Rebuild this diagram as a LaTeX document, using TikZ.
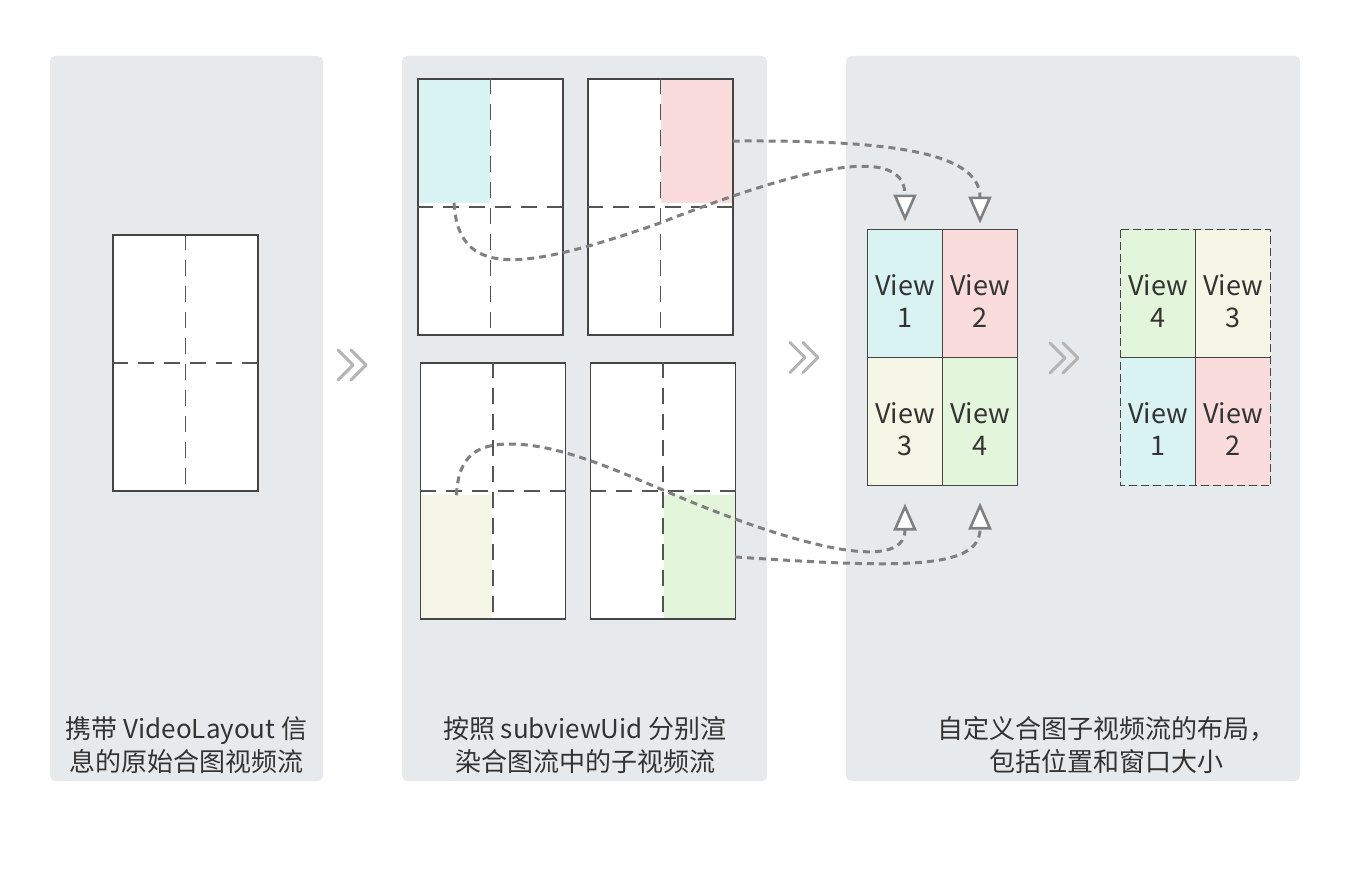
\documentclass[tikz,border=0pt]{standalone}
\usepackage{fontspec}
\setmainfont{Noto Sans CJK SC}
\usetikzlibrary{positioning,calc,arrows.meta}

\definecolor{panelgray}{HTML}{E7EAED}
\definecolor{framegray}{HTML}{454545}
\definecolor{crossgray}{HTML}{555555}
\definecolor{cyanfill}{HTML}{D9F3F3}
\definecolor{pinkfill}{HTML}{F9DCDB}
\definecolor{yellowfill}{HTML}{F6F6E7}
\definecolor{greenfill}{HTML}{E3F5DB}
\definecolor{flowgray}{HTML}{808080}
\definecolor{chevgray}{HTML}{B4B4B4}
\definecolor{textgray}{HTML}{333333}

\begin{document}
\begin{tikzpicture}[x=1pt, y=-1pt,
    panel/.style={fill=panelgray, rounded corners=5pt},
    frame/.style={draw=framegray, line width=1.3pt, fill=white, minimum width=145pt, minimum height=256pt, inner sep=0pt},
    quad/.style={minimum width=71pt, minimum height=123pt, inner sep=0pt},
    cross/.style={draw=crossgray, line width=1.2pt, dash pattern=on 16pt off 10pt},
    cell/.style={minimum width=75pt, minimum height=128pt, inner sep=0pt, outer sep=0pt},
    viewtext/.style={align=center, text=textgray, font=\fontsize{27}{32}\selectfont, yshift=-8pt},
    caption/.style={align=center, text=textgray, font=\fontsize{26}{33}\selectfont},
    flow/.style={draw=flowgray, line width=3pt, dash pattern=on 7pt off 5pt,
        -{Triangle[fill=white, length=27pt, width=23pt, line width=2.6pt]}},
    chevron/.style={draw=chevgray, line width=3pt, line cap=round, line join=round}]

    \useasboundingbox (0,0) rectangle (1349,872);

    % Background panels
    \fill[panel] (50,56) rectangle (323,781);
    \fill[panel] (402,56) rectangle (767,781);
    \fill[panel] (846,56) rectangle (1300,781);

    % Original composite stream
    \node[frame] (f0) at (185.5,363) {};
    \draw[cross] (f0.north) -- (f0.south);
    \draw[cross] (f0.west) -- (f0.east);

    % Rendered sub streams
    \node[frame] (f1) at (490.5,207) {};
    \node[frame] (f2) at (660.5,207) {};
    \node[frame] (f3) at (493,491) {};
    \node[frame] (f4) at (663,491) {};

    \node[quad, fill=cyanfill, anchor=north west] (q1) at ([shift={(1,1)}]f1.north west) {};
    \node[quad, fill=pinkfill, anchor=north east] (q2) at ([shift={(-1,1)}]f2.north east) {};
    \node[quad, fill=yellowfill, anchor=south west] (q3) at ([shift={(1,-1)}]f3.south west) {};
    \node[quad, fill=greenfill, anchor=south east] (q4) at ([shift={(-1,-1)}]f4.south east) {};

    \foreach \f in {f1,f2,f3,f4}{
        \draw[cross] (\f.north) -- (\f.south);
        \draw[cross] (\f.west) -- (\f.east);
    }

    % Custom layout
    \node[cell, draw=framegray, line width=1.3pt, fill=cyanfill, label={[viewtext]center:{View\\1}}] (v1) at (905,293.5) {};
    \node[cell, draw=framegray, line width=1.3pt, fill=pinkfill, right=0pt of v1, label={[viewtext]center:{View\\2}}] (v2) {};
    \node[cell, draw=framegray, line width=1.3pt, fill=yellowfill, below=0pt of v1, label={[viewtext]center:{View\\3}}] (v3) {};
    \node[cell, draw=framegray, line width=1.3pt, fill=greenfill, right=0pt of v3, label={[viewtext]center:{View\\4}}] (v4) {};

    % Rearranged layout
    \node[cell, fill=greenfill, label={[viewtext]center:{View\\4}}] (r4) at (1158,293.5) {};
    \node[cell, fill=yellowfill, right=0pt of r4, label={[viewtext]center:{View\\3}}] (r3) {};
    \node[cell, fill=cyanfill, below=0pt of r4, label={[viewtext]center:{View\\1}}] (r1) {};
    \node[cell, fill=pinkfill, right=0pt of r1, label={[viewtext]center:{View\\2}}] (r2) {};
    \draw[framegray, line width=1.3pt] (r4.north east) -- (r1.south east);
    \draw[framegray, line width=1.3pt] (r4.south west) -- (r3.south east);
    \draw[framegray, line width=1.3pt, dash pattern=on 8pt off 4pt] (r4.north west) rectangle (r2.south east);

    % Flows from sub streams to views
    \draw[flow] (q2.east) .. controls (880,140) and (980,150) .. ($(v2.north)+(0,-6)$);
    \draw[flow] (q1.south) .. controls (458,278) and (520,272) .. (660,223)
        .. controls (790,172) and (905,140) .. ($(v1.north)+(0,-8)$);
    \draw[flow] (q3.north) .. controls (458,455) and (478,444) .. (510,444)
        .. controls (560,444) and (620,472) .. (663,490)
        .. controls (790,545) and (905,575) .. ($(v3.south)+(0,18)$);
    \draw[flow] (q4.east) .. controls (900,568) and (980,570) .. ($(v4.south)+(0,17)$);

    % Step chevrons
    \foreach \cx/\cy in {338/365, 790/357.5, 1050/358}{
        \draw[chevron] (\cx,\cy-15) -- (\cx+15,\cy) -- (\cx,\cy+15);
        \draw[chevron] (\cx+13,\cy-15) -- (\cx+28,\cy) -- (\cx+13,\cy+15);
    }

    % Captions
    \node[caption] (cap1) at (186.5,745) {携带 VideoLayout 信\\息的原始合图视频流};
    \node[caption] (cap2) at (585,745) {按照 subviewUid 分别渲\\染合图流中的子视频流};
    \node[caption] (cap3) at (1106,745) {自定义合图子视频流的布局，\\包括位置和窗口大小};
\end{tikzpicture}
\end{document}
